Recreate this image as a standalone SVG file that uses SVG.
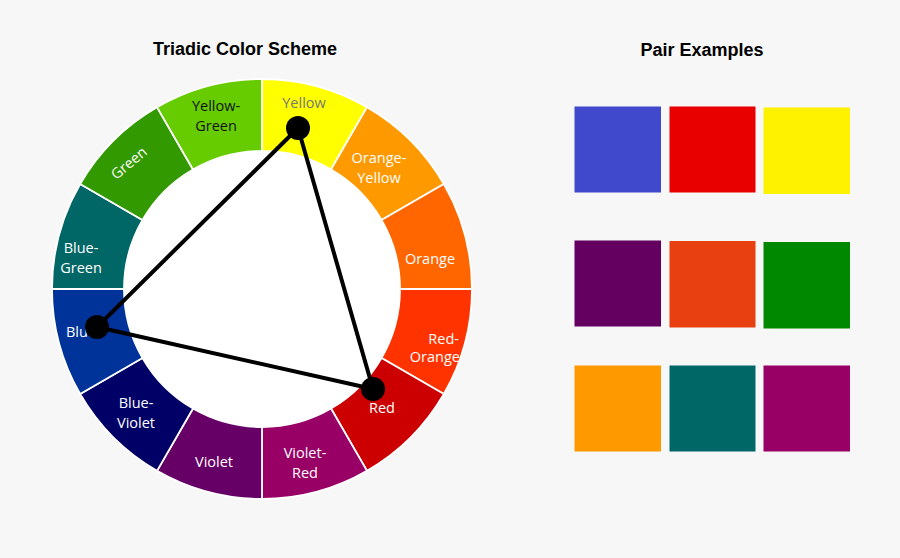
<svg xmlns="http://www.w3.org/2000/svg" width="900" height="558" viewBox="0 0 900 558">
<style>
.seg{stroke:#fff;stroke-width:1.8}
.lbl{font-family:"Open Sans","Noto Sans",sans-serif;font-size:14.5px;fill:#fff;text-anchor:middle}
.ttl{font-family:"Liberation Sans",Arial,sans-serif;font-size:18px;font-weight:bold;fill:#000;text-anchor:middle}
.edge{stroke:#000;stroke-width:4;fill:none}
.dot{fill:#000}
</style>
<rect width="900" height="558" fill="#f7f7f7"/>
<text class="ttl" x="245" y="55">Triadic Color Scheme</text>
<text class="ttl" x="702" y="56">Pair Examples</text>
<g id="wheel">
<circle cx="262" cy="289" r="138" fill="#fff"/>
<g id="seg-yellow"><path class="seg" fill="#ffff00" d="M262,79 A210,210 0 0 1 367,107.13 L331,169.49 A138,138 0 0 0 262,151 Z"/><text class="lbl" x="304" y="108" style="fill:#777">Yellow</text></g>
<g id="seg-orange-yellow"><path class="seg" fill="#ff9900" d="M367,107.13 A210,210 0 0 1 443.87,184 L381.51,220 A138,138 0 0 0 331,169.49 Z"/><text class="lbl" x="379" y="163">Orange-</text><text class="lbl" x="379" y="183">Yellow</text></g>
<g id="seg-orange"><path class="seg" fill="#ff6600" d="M443.87,184 A210,210 0 0 1 472,289 L400,289 A138,138 0 0 0 381.51,220 Z"/><text class="lbl" x="430" y="264">Orange</text></g>
<g id="seg-red-orange"><path class="seg" fill="#ff3300" d="M472,289 A210,210 0 0 1 443.87,394 L381.51,358 A138,138 0 0 0 400,289 Z"/><text class="lbl" x="459" y="344" style="text-anchor:end">Red-</text><text class="lbl" x="460" y="362" style="text-anchor:end">Orange</text></g>
<g id="seg-red"><path class="seg" fill="#cc0000" d="M443.87,394 A210,210 0 0 1 367,470.87 L331,408.51 A138,138 0 0 0 381.51,358 Z"/><text class="lbl" x="382" y="413">Red</text></g>
<g id="seg-violet-red"><path class="seg" fill="#990066" d="M367,470.87 A210,210 0 0 1 262,499 L262,427 A138,138 0 0 0 331,408.51 Z"/><text class="lbl" x="305" y="458">Violet-</text><text class="lbl" x="305" y="478">Red</text></g>
<g id="seg-violet"><path class="seg" fill="#660066" d="M262,499 A210,210 0 0 1 157,470.87 L193,408.51 A138,138 0 0 0 262,427 Z"/><text class="lbl" x="214" y="467">Violet</text></g>
<g id="seg-blue-violet"><path class="seg" fill="#000066" d="M157,470.87 A210,210 0 0 1 80.13,394 L142.49,358 A138,138 0 0 0 193,408.51 Z"/><text class="lbl" x="136" y="408">Blue-</text><text class="lbl" x="136" y="428">Violet</text></g>
<g id="seg-blue"><path class="seg" fill="#003399" d="M80.13,394 A210,210 0 0 1 52,289 L124,289 A138,138 0 0 0 142.49,358 Z"/><text class="lbl" x="81" y="337">Blue</text></g>
<g id="seg-blue-green"><path class="seg" fill="#006666" d="M52,289 A210,210 0 0 1 80.13,184 L142.49,220 A138,138 0 0 0 124,289 Z"/><text class="lbl" x="81" y="253">Blue-</text><text class="lbl" x="81" y="273">Green</text></g>
<g id="seg-green"><path class="seg" fill="#339900" d="M80.13,184 A210,210 0 0 1 157,107.13 L193,169.49 A138,138 0 0 0 142.49,220 Z"/><text class="lbl" x="129" y="168" transform="rotate(-40 129 163)">Green</text></g>
<g id="seg-yellow-green"><path class="seg" fill="#66cc00" d="M157,107.13 A210,210 0 0 1 262,79 L262,151 A138,138 0 0 0 193,169.49 Z"/><text class="lbl" x="216" y="111" style="fill:#111">Yellow-</text><text class="lbl" x="216" y="131" style="fill:#111">Green</text></g>
</g>
<g id="connectors">
<polygon class="edge" points="298,128 97,327 373,389"/>
</g>
<g id="vertices">
<circle class="dot" cx="298" cy="128" r="12"/>
<circle class="dot" cx="97" cy="327" r="12"/>
<circle class="dot" cx="373" cy="389" r="12"/>
</g>
<g id="pairs">
<rect x="574.5" y="106.5" width="86.5" height="86" fill="#4048cc"/>
<rect x="669.5" y="106.5" width="86" height="86" fill="#e80000"/>
<rect x="763.5" y="107.5" width="86.5" height="86.5" fill="#fff200"/>
<rect x="574.5" y="240.5" width="86.5" height="86" fill="#640060"/>
<rect x="669.5" y="241" width="86" height="86.5" fill="#e84010"/>
<rect x="763.5" y="242" width="86.5" height="86.5" fill="#008800"/>
<rect x="574.5" y="365.5" width="86.5" height="86" fill="#ff9900"/>
<rect x="669.5" y="365.5" width="86" height="86" fill="#006666"/>
<rect x="763.5" y="365.5" width="86.5" height="86" fill="#990066"/>
</g>
</svg>
